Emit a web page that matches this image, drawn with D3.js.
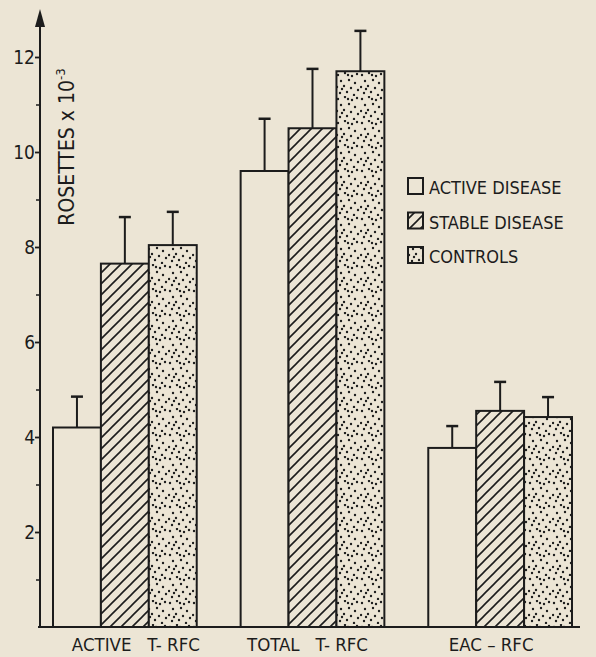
<!DOCTYPE html>
<html><head><meta charset="utf-8">
<script src="https://cdn.jsdelivr.net/npm/d3@7/dist/d3.min.js"></script>
<style>
html,body{margin:0;padding:0;background:#ece5d5;}
svg{display:block;}
text{font-family:"DejaVu Sans Condensed","Liberation Sans",sans-serif;fill:#1c1c1c;}
</style></head><body>
<svg id="chart" width="596" height="657"></svg>
<script>
const groups = ["ACTIVE   T- RFC", "TOTAL   T- RFC", "EAC \u2013 RFC"];
const seriesNames = ["ACTIVE DISEASE", "STABLE DISEASE", "CONTROLS"];
const activeVals = [4.2, 9.6, 3.77];
const stableVals = [7.65, 10.5, 4.55];
const controlVals = [8.04, 11.7, 4.42];
const activeErr = [4.85, 10.7, 4.23];
const stableErr = [8.63, 11.75, 5.16];
const controlErr = [8.74, 12.55, 4.84];
const majorTicks = [2, 4, 6, 8, 10, 12];
const minorTicks = [1, 3, 5, 7, 9, 11];

const ink = "#1c1c1c";
const bg = "#ece5d5";
const svg = d3.select("#chart");
const defs = svg.append("defs");

// hatch pattern
const hatch = defs.append("pattern").attr("id","hatch").attr("patternUnits","userSpaceOnUse")
  .attr("width",11).attr("height",11);
hatch.append("rect").attr("width",11).attr("height",11).attr("fill",bg);
hatch.append("path").attr("d","M-1,12 L12,-1 M-6,6 L6,-6 M5,17 L17,5")
  .attr("stroke",ink).attr("stroke-width",1.6);

// dot pattern
const dots = defs.append("pattern").attr("id","dots").attr("patternUnits","userSpaceOnUse")
  .attr("width",24).attr("height",24);
dots.append("rect").attr("width",24).attr("height",24).attr("fill",bg);
const dotPos = [[2,3],[9,1],[16,4],[21,2],[5,9],[13,8],[19,11],[1,15],[8,14],[15,16],[22,18],[4,21],[11,20],[18,23],[12,3],[6,17]];
dots.selectAll("circle").data(dotPos).join("circle")
  .attr("cx",d=>d[0]).attr("cy",d=>d[1]).attr("r",1.2).attr("fill",ink);

const fills = [bg,"url(#hatch)","url(#dots)"];
const vals = [activeVals, stableVals, controlVals];
const errs = [activeErr, stableErr, controlErr];

const y = d3.scaleLinear().domain([0, 12]).range([627, 57]);
const x0 = d3.scaleBand().domain(groups).range([53, 572]).paddingInner(0.234).paddingOuter(0);
const x1 = d3.scaleBand().domain(seriesNames).range([0, x0.bandwidth()]);

// bars
groups.forEach((g, gi) => {
  seriesNames.forEach((s, si) => {
    const bx = x0(g) + x1(s);
    const v = vals[si][gi];
    svg.append("rect").attr("x", bx).attr("y", y(v))
      .attr("width", x1.bandwidth()).attr("height", y(0) - y(v))
      .attr("fill", fills[si]).attr("stroke", ink).attr("stroke-width", 2);
    const cx = bx + x1.bandwidth()/2;
    const e = errs[si][gi];
    svg.append("line").attr("x1",cx).attr("x2",cx).attr("y1",y(v)).attr("y2",y(e))
      .attr("stroke",ink).attr("stroke-width",2);
    svg.append("line").attr("x1",cx-6).attr("x2",cx+6).attr("y1",y(e)).attr("y2",y(e))
      .attr("stroke",ink).attr("stroke-width",2.5);
  });
});

// baseline
svg.append("line").attr("x1",38).attr("x2",580).attr("y1",y(0)).attr("y2",y(0))
  .attr("stroke",ink).attr("stroke-width",2);

// y axis
const axisX = 40;
const yAxis = d3.axisLeft(y).tickValues(majorTicks).tickSize(5).tickFormat(d3.format("d"));
const ag = svg.append("g").attr("transform",`translate(${axisX},0)`).call(yAxis);
ag.select(".domain").remove();
ag.selectAll(".tick line").attr("stroke",ink).attr("stroke-width",1.8);
ag.selectAll(".tick text").attr("font-size",19).attr("x",-5).attr("fill",ink)
  .style("font-family","'DejaVu Sans Condensed',sans-serif");
const mg = svg.append("g").attr("transform",`translate(${axisX},0)`)
  .call(d3.axisLeft(y).tickValues(minorTicks).tickSize(4).tickFormat(""));
mg.select(".domain").remove();
mg.selectAll(".tick line").attr("stroke",ink).attr("stroke-width",1.5);

svg.append("line").attr("x1",axisX).attr("x2",axisX).attr("y1",y(0)).attr("y2",18)
  .attr("stroke",ink).attr("stroke-width",2);
svg.append("path").attr("d",`M${axisX},9 L${axisX-5},27 L${axisX+5},27 Z`).attr("fill",ink);

// y label
const yl = svg.append("text").attr("transform","translate(74,147) rotate(-90)")
  .attr("text-anchor","middle").attr("font-size",21);
yl.append("tspan").text("ROSETTES  x  10");
yl.append("tspan").attr("dy",-9).attr("font-size",13).text("-3");

// x labels
const labOff = [11, -5, -9];
svg.selectAll(".xlab").data(groups).join("text").attr("class","xlab")
  .attr("x", (d,i)=> x0(d) + x0.bandwidth()/2 + labOff[i])
  .attr("y", 651).attr("text-anchor","middle").attr("font-size",18.5)
  .style("white-space","pre").attr("xml:space","preserve").text(d=>d);

// legend
const leg = svg.append("g");
seriesNames.forEach((s,i)=>{
  const ly = 178 + i*34.5;
  leg.append("rect").attr("x",408).attr("y",ly).attr("width",15).attr("height",16)
    .attr("fill",fills[i]).attr("stroke",ink).attr("stroke-width",2);
  leg.append("text").attr("x",429).attr("y",ly+16).attr("font-size",18).text(s);
});
</script>
</body></html>
